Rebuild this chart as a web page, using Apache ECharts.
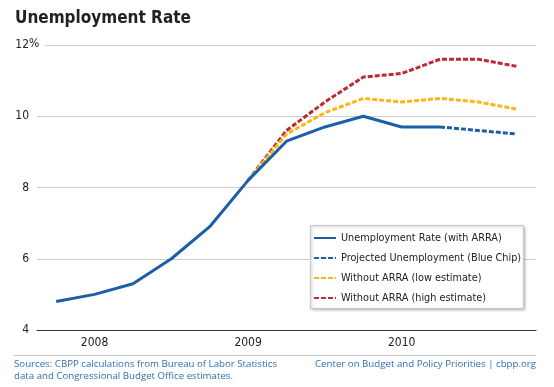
<!DOCTYPE html>
<html><head><meta charset="utf-8">
<script src="https://cdn.jsdelivr.net/npm/echarts@6/dist/echarts.min.js"></script>
<style>html,body{margin:0;padding:0;background:#fff}#c{width:554px;height:387px}</style>
</head><body><div id="c"></div>
<script>
var categories = ['2007 Q4','2008 Q1','2008 Q2','2008 Q3','2008 Q4','2009 Q1','2009 Q2','2009 Q3','2009 Q4','2010 Q1','2010 Q2','2010 Q3','2010 Q4'];
var withArra   = [4.8, 5.0, 5.3, 6.0, 6.9, 8.2, 9.3, 9.7, 10.0, 9.7, 9.7, null, null];
var projected  = [null, null, null, null, null, null, null, null, null, null, 9.7, 9.6, 9.5];
var lowEst     = [null, null, null, null, null, 8.2, 9.5, 10.1, 10.5, 10.4, 10.5, 10.4, 10.2];
var highEst    = [null, null, null, null, null, 8.2, 9.6, 10.4, 11.1, 11.2, 11.6, 11.6, 11.4];
var yearLabels = {'2008 Q1':'2008','2009 Q1':'2009','2010 Q1':'2010'};

var FONT = "'DejaVu Sans Condensed',sans-serif";
var BLUE = '#1c5fa6', YEL = '#fbb616', RED = '#be2a34', FOOT = '#2f6fb5';
var chart = echarts.init(document.getElementById('c'), null, {renderer:'canvas'});
chart.setOption({
  animation:false,
  textStyle:{fontFamily:FONT},
  grid:{left:37,right:18,top:45,bottom:57},
  xAxis:{type:'category',data:categories,boundaryGap:true,
    axisLine:{lineStyle:{color:'#333',width:1}},
    axisTick:{inside:true,length:8,interval:0,lineStyle:{color:'#333'}},
    axisLabel:{interval:0,margin:7,color:'#222',fontSize:12,fontFamily:FONT,
      formatter:function(v){return yearLabels[v]||'';}},
    splitLine:{show:false}},
  yAxis:{type:'value',min:4,max:12,interval:2,
    axisLine:{show:false},axisTick:{show:false},
    axisLabel:{margin:8,color:'#222',fontSize:12,fontFamily:FONT},
    splitLine:{lineStyle:{color:'#cccccc',width:1}}},
  legend:{orient:'vertical',left:313,top:231,
    padding:0,itemGap:6,itemWidth:22,itemHeight:2,
    textStyle:{fontSize:10.8,lineHeight:14,color:'#222',fontFamily:FONT},
    data:['Unemployment Rate (with ARRA)','Projected Unemployment (Blue Chip)','Without ARRA (low estimate)','Without ARRA (high estimate)']},
  series:[
    {name:'Without ARRA (high estimate)',type:'line',data:highEst,symbol:'circle',showSymbol:false,z:2,
      lineStyle:{color:RED,width:3,type:[5,2]},itemStyle:{color:RED}},
    {name:'Without ARRA (low estimate)',type:'line',data:lowEst,symbol:'circle',showSymbol:false,z:2,
      lineStyle:{color:YEL,width:3,type:[5,2]},itemStyle:{color:YEL}},
    {name:'Projected Unemployment (Blue Chip)',type:'line',data:projected,symbol:'circle',showSymbol:false,z:2,
      lineStyle:{color:BLUE,width:3,type:[5,2]},itemStyle:{color:BLUE}},
    {name:'Unemployment Rate (with ARRA)',type:'line',data:withArra,symbol:'circle',showSymbol:false,z:2,
      lineStyle:{color:BLUE,width:3},itemStyle:{color:BLUE}}
  ],
  graphic:[
    {type:'text',left:15,top:10,style:{text:'Unemployment Rate',font:"bold 17px "+FONT,fill:'#222'}},
    {type:'text',left:29,top:38,z:10,style:{text:'%',font:"12px "+FONT,fill:'#222',backgroundColor:'#fff',padding:[0,6,0,0]}},
    {type:'rect',z:3,shape:{x:310.5,y:225.5,width:213,height:83},
      style:{fill:'#fff',stroke:'#c8c8c8',lineWidth:1,shadowColor:'rgba(0,0,0,0.28)',shadowBlur:3,shadowOffsetX:1,shadowOffsetY:1}},
    {type:'line',shape:{x1:14,y1:355.5,x2:536,y2:355.5},style:{stroke:'#c8c8c8',lineWidth:1}},
    {type:'text',left:14,top:358,style:{text:'Sources: CBPP calculations from Bureau of Labor Statistics\ndata and Congressional Budget Office estimates.',font:"9.7px 'Open Sans',sans-serif",fill:FOOT,lineHeight:12}},
    {type:'text',right:18,top:358,style:{text:'Center on Budget and Policy Priorities | cbpp.org',font:"9.7px 'Open Sans',sans-serif",fill:FOOT,lineHeight:12}}
  ]
});
</script></body></html>
